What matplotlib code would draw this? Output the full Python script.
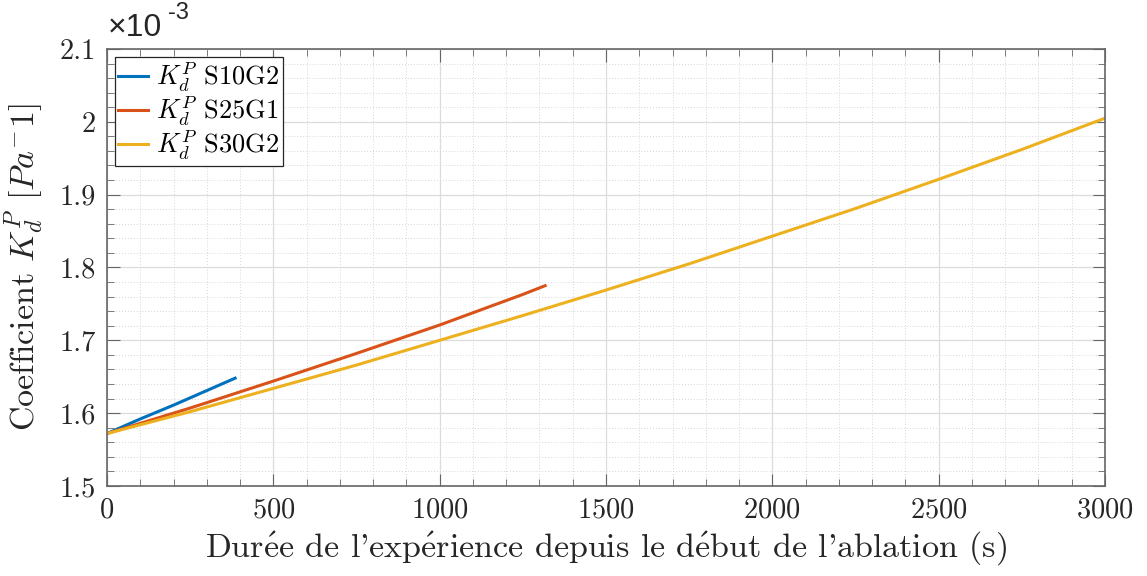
import numpy as np
import matplotlib
matplotlib.use("Agg")
import matplotlib.pyplot as plt
from matplotlib.ticker import MultipleLocator, FuncFormatter

# values in units of 1e-3 Pa^-1
t_s10 = [0, 100, 200, 300, 385]
k_s10 = [1.572, 1.592, 1.611, 1.631, 1.648]

t_s25 = [0, 250, 500, 750, 1000, 1250, 1317]
k_s25 = [1.572, 1.607, 1.644, 1.682, 1.721, 1.763, 1.775]

t_s30 = [0, 250, 500, 750, 1000, 1250, 1500, 1750, 2000, 2250, 2500, 2750, 3000]
k_s30 = [1.572, 1.602, 1.634, 1.666, 1.700, 1.734, 1.769, 1.805, 1.843, 1.881, 1.921, 1.962, 2.005]

labels = [r"$K_d^P$ S10G2", r"$K_d^P$ S25G1", r"$K_d^P$ S30G2"]
colors = ["#0072BD", "#D95319", "#EDB120"]

plt.rcParams["font.family"] = ["cmr10", "DejaVu Serif"]
plt.rcParams["mathtext.fontset"] = "cm"
plt.rcParams["axes.formatter.use_mathtext"] = True

fig = plt.figure(figsize=(11.47, 5.76), dpi=100)
ax = fig.add_axes([0.0933, 0.1563, 0.8701, 0.7587])

for t, k, lab, c in zip([t_s10, t_s25, t_s30], [k_s10, k_s25, k_s30], labels, colors):
    ax.plot(t, k, color=c, lw=2.2, label=lab)

ax.set_xlim(0, 3000)
ax.set_ylim(1.5, 2.1)
ax.xaxis.set_major_locator(MultipleLocator(500))
ax.xaxis.set_minor_locator(MultipleLocator(100))
ax.yaxis.set_major_locator(MultipleLocator(0.1))
ax.yaxis.set_minor_locator(MultipleLocator(0.02))
ax.yaxis.set_major_formatter(FuncFormatter(lambda v, p: f"{v:.1f}".rstrip("0").rstrip(".")))

axis_col = "#666666"
for s in ax.spines.values():
    s.set_color(axis_col)
    s.set_linewidth(1.2)
ax.tick_params(which="both", direction="in", top=True, right=True, color=axis_col,
               labelcolor="#262626")
ax.tick_params(which="major", length=9, labelsize=20.5, pad=8)
ax.tick_params(which="minor", length=5)
ax.grid(which="major", color="#dcdcdc", lw=0.9)
ax.grid(which="minor", color="#d6d6d6", lw=0.7, ls=(0, (1, 2)))
ax.set_axisbelow(True)

e_acc = r"$\mathrm{\acute{e}}$"
xlab = f"Dur{e_acc}e de l'exp{e_acc}rience depuis le d{e_acc}but de l'ablation (s)"
ax.set_xlabel(xlab, fontsize=24.5, color="#262626", labelpad=4)
ax.set_ylabel(r"Coefficient $K_d^P$ $[Pa^{-}1]$", fontsize=24.5, color="#262626", labelpad=10)

sans = ["Liberation Sans", "DejaVu Sans"]
ax.text(0.001, 1.014, "×10", transform=ax.transAxes, fontsize=23, family=sans,
        color="#262626", va="bottom", ha="left")
ax.text(0.061, 1.058, "-3", transform=ax.transAxes, fontsize=17, family=sans,
        color="#262626", va="bottom", ha="left")

leg = ax.legend(loc="upper left", fontsize=19, handlelength=1.15, handletextpad=0.3,
                borderpad=0.12, labelspacing=0.0, borderaxespad=0.3, fancybox=False,
                framealpha=1)
leg.get_frame().set_edgecolor("#262626")
leg.get_frame().set_linewidth(0.9)

fig.savefig("out.png", dpi=100)
